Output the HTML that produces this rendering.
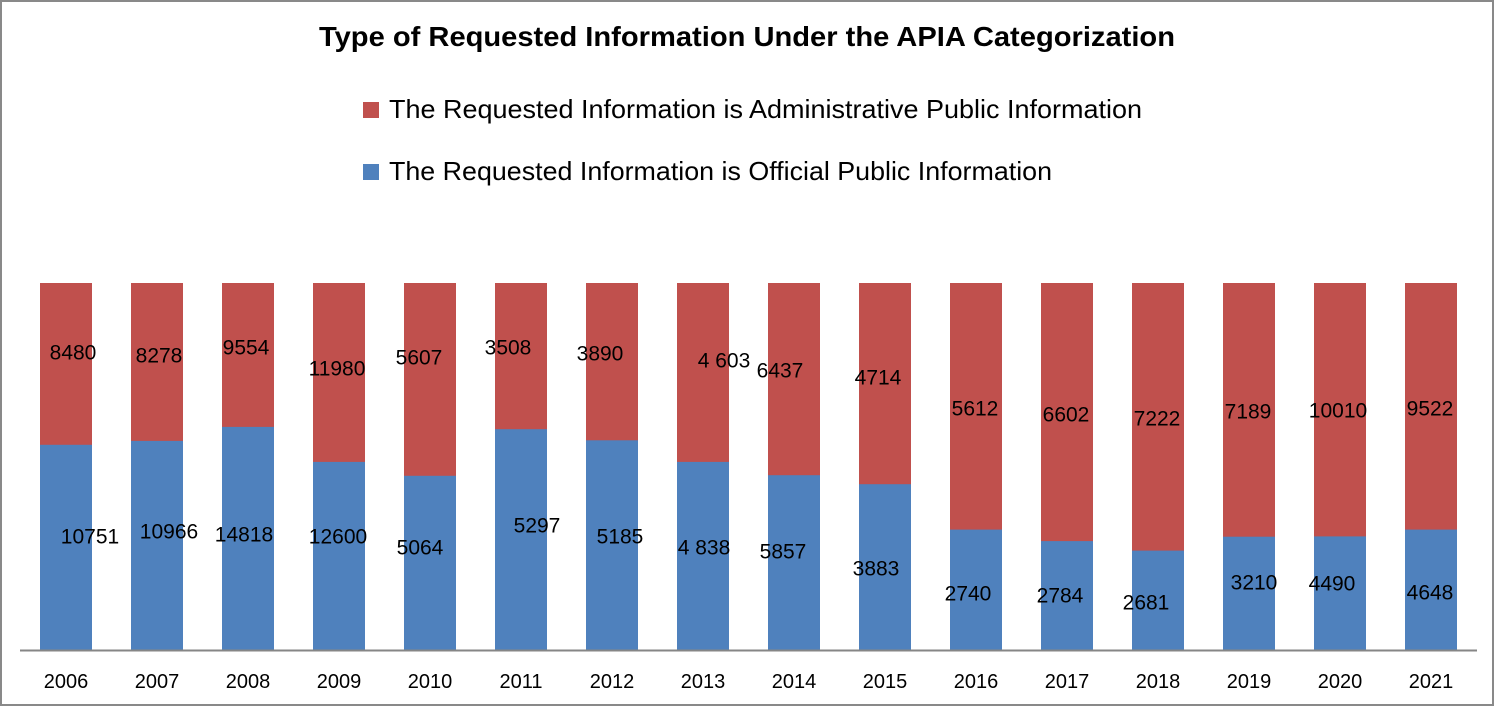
<!DOCTYPE html>
<html><head><meta charset="utf-8"><style>
html,body{margin:0;padding:0;background:#fff;}
svg{display:block;}
text{font-family:"Liberation Sans",Arial,sans-serif;fill:#000;}
</style></head><body>
<svg width="1496" height="707" viewBox="0 0 1496 707" xmlns="http://www.w3.org/2000/svg">
<rect x="0" y="0" width="1496" height="707" fill="#fff"/>
<rect x="1" y="1" width="1492" height="704" fill="none" stroke="#898989" stroke-width="2"/>
<text x="319" y="46" font-size="28" font-weight="bold" textLength="856" lengthAdjust="spacingAndGlyphs">Type of Requested Information Under the APIA Categorization</text>
<rect x="363" y="102" width="16" height="16" fill="#C0504D"/>
<text x="389" y="118" font-size="26" textLength="753" lengthAdjust="spacingAndGlyphs">The Requested Information is Administrative Public Information</text>
<rect x="363" y="164" width="16" height="16" fill="#4F81BD"/>
<text x="389" y="180" font-size="26" textLength="663" lengthAdjust="spacingAndGlyphs">The Requested Information is Official Public Information</text>
<g>
<rect x="40" y="283" width="52" height="162" fill="#C0504D"/><rect x="40" y="444.8" width="52" height="205.2" fill="#4F81BD"/>
<rect x="131" y="283" width="52" height="158" fill="#C0504D"/><rect x="131" y="440.9" width="52" height="209.1" fill="#4F81BD"/>
<rect x="222" y="283" width="52" height="144" fill="#C0504D"/><rect x="222" y="426.9" width="52" height="223.1" fill="#4F81BD"/>
<rect x="313" y="283" width="52" height="179" fill="#C0504D"/><rect x="313" y="461.9" width="52" height="188.1" fill="#4F81BD"/>
<rect x="404" y="283" width="52" height="193" fill="#C0504D"/><rect x="404" y="475.8" width="52" height="174.2" fill="#4F81BD"/>
<rect x="495" y="283" width="52" height="147" fill="#C0504D"/><rect x="495" y="429.2" width="52" height="220.8" fill="#4F81BD"/>
<rect x="586" y="283" width="52" height="158" fill="#C0504D"/><rect x="586" y="440.3" width="52" height="209.7" fill="#4F81BD"/>
<rect x="677" y="283" width="52" height="179" fill="#C0504D"/><rect x="677" y="461.9" width="52" height="188.1" fill="#4F81BD"/>
<rect x="768" y="283" width="52" height="193" fill="#C0504D"/><rect x="768" y="475.2" width="52" height="174.8" fill="#4F81BD"/>
<rect x="859" y="283" width="52" height="202" fill="#C0504D"/><rect x="859" y="484.2" width="52" height="165.8" fill="#4F81BD"/>
<rect x="950" y="283" width="52" height="247" fill="#C0504D"/><rect x="950" y="529.6" width="52" height="120.4" fill="#4F81BD"/>
<rect x="1041" y="283" width="52" height="259" fill="#C0504D"/><rect x="1041" y="541.1" width="52" height="108.9" fill="#4F81BD"/>
<rect x="1132" y="283" width="52" height="268" fill="#C0504D"/><rect x="1132" y="550.6" width="52" height="99.4" fill="#4F81BD"/>
<rect x="1223" y="283" width="52" height="254" fill="#C0504D"/><rect x="1223" y="536.7" width="52" height="113.3" fill="#4F81BD"/>
<rect x="1314" y="283" width="52" height="254" fill="#C0504D"/><rect x="1314" y="536.4" width="52" height="113.6" fill="#4F81BD"/>
<rect x="1405" y="283" width="52" height="247" fill="#C0504D"/><rect x="1405" y="529.6" width="52" height="120.4" fill="#4F81BD"/>
</g>
<line x1="20" y1="650.5" x2="1477" y2="650.5" stroke="#868686" stroke-width="2"/>
<g font-size="21" text-anchor="middle">
<text x="73" y="359.5">8480</text>
<text x="159" y="362.5">8278</text>
<text x="246" y="354.5">9554</text>
<text x="337" y="375.5">11980</text>
<text x="419" y="364.5">5607</text>
<text x="508" y="354.5">3508</text>
<text x="600" y="360.5">3890</text>
<text x="724" y="367.5">4 603</text>
<text x="780" y="377.5">6437</text>
<text x="878" y="384.5">4714</text>
<text x="975" y="415.5">5612</text>
<text x="1066" y="421.5">6602</text>
<text x="1157" y="425.5">7222</text>
<text x="1248" y="418.5">7189</text>
<text x="1338" y="417.5">10010</text>
<text x="1430" y="415.5">9522</text>
<text x="90" y="543.5">10751</text>
<text x="169" y="538.5">10966</text>
<text x="244" y="541.5">14818</text>
<text x="338" y="543.5">12600</text>
<text x="420" y="554.5">5064</text>
<text x="537" y="532.5">5297</text>
<text x="620" y="543.5">5185</text>
<text x="704" y="554.5">4 838</text>
<text x="783" y="558.5">5857</text>
<text x="876" y="575.5">3883</text>
<text x="968" y="600.5">2740</text>
<text x="1060" y="602.5">2784</text>
<text x="1146" y="609.5">2681</text>
<text x="1254" y="589.5">3210</text>
<text x="1332" y="590.5">4490</text>
<text x="1430" y="599.5">4648</text>
</g>
<g font-size="20" text-anchor="middle">
<text x="66" y="688">2006</text>
<text x="157" y="688">2007</text>
<text x="248" y="688">2008</text>
<text x="339" y="688">2009</text>
<text x="430" y="688">2010</text>
<text x="521" y="688">2011</text>
<text x="612" y="688">2012</text>
<text x="703" y="688">2013</text>
<text x="794" y="688">2014</text>
<text x="885" y="688">2015</text>
<text x="976" y="688">2016</text>
<text x="1067" y="688">2017</text>
<text x="1158" y="688">2018</text>
<text x="1249" y="688">2019</text>
<text x="1340" y="688">2020</text>
<text x="1431" y="688">2021</text>
</g>
</svg>
</body></html>
